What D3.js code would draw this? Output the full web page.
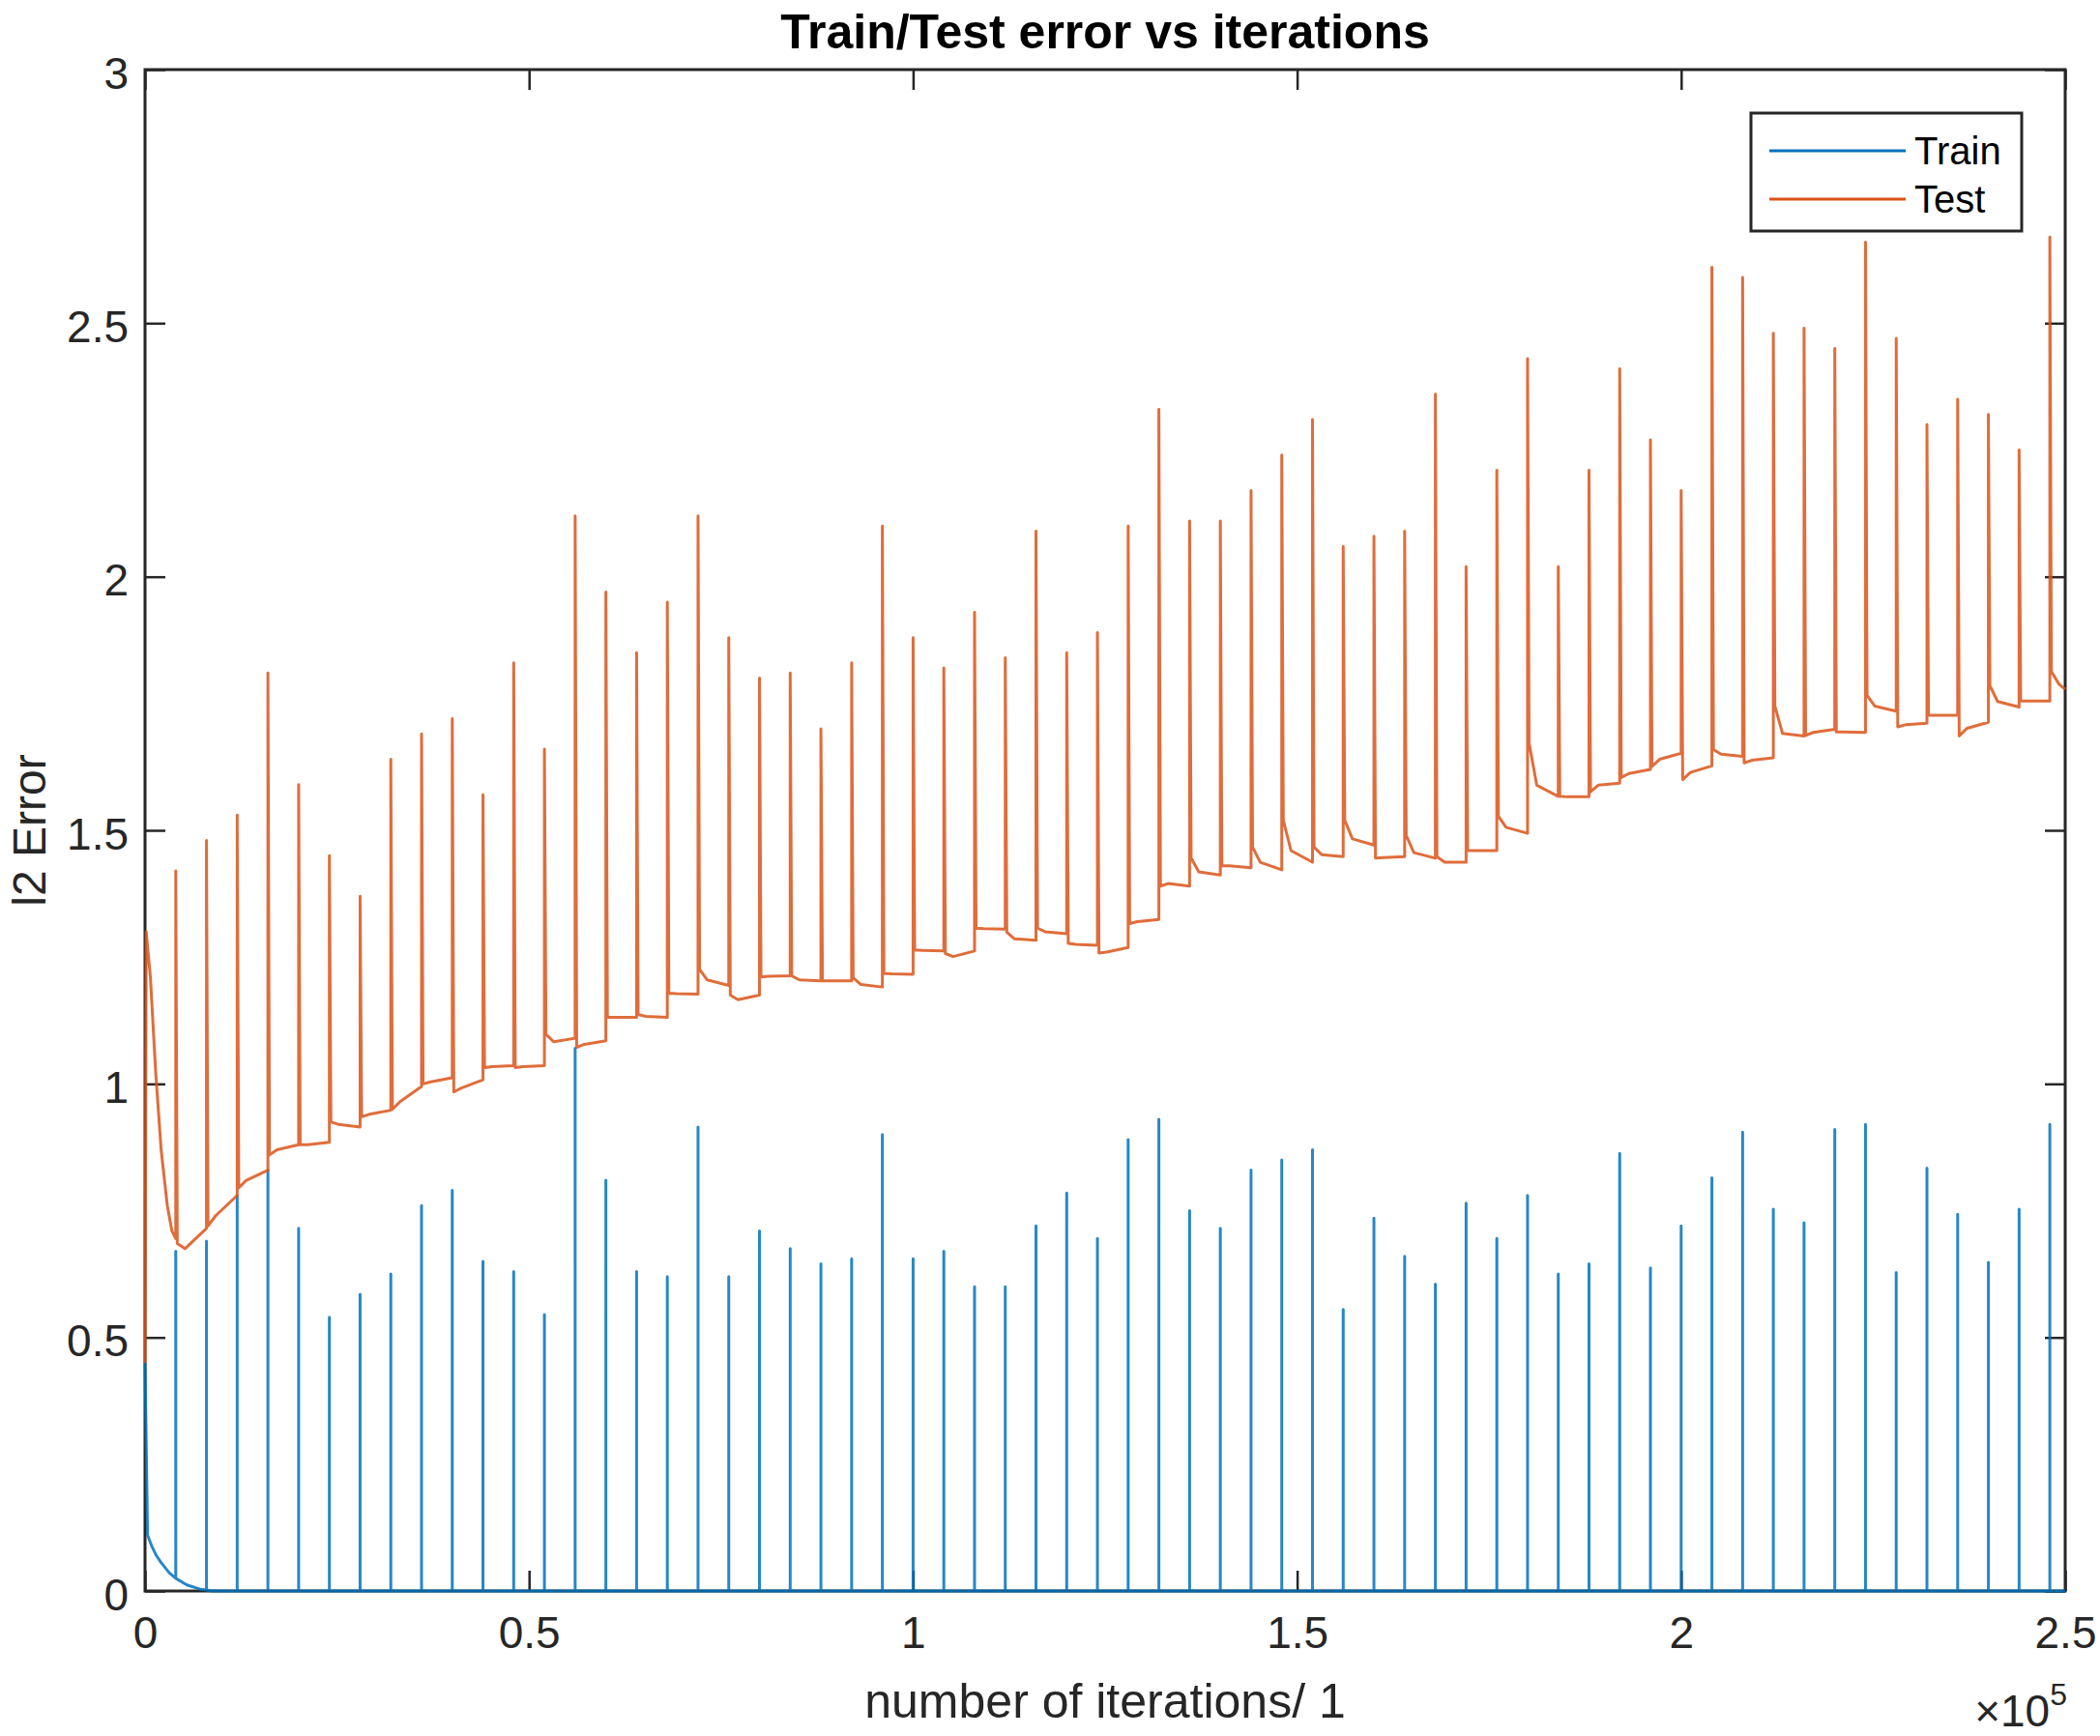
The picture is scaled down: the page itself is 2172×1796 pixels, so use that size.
<!DOCTYPE html>
<html>
<head>
<script src="https://d3js.org/d3.v7.min.js"></script>
<style type="text/css">
  body { margin:0; background:#fff; }
  svg { display:block; font-family:"Liberation Sans", Arial, Helvetica, sans-serif; }
</style>
</head>
<body>
<div id="container"></div>
<script type="text/javascript">

// iterations where the error jumps
var spikeIter = [4000, 8000, 12000, 16000, 20000, 24000, 28000, 32000, 36000, 40000,
  44000, 48000, 52000, 56000, 60000, 64000, 68000, 72000, 76000, 80000,
  84000, 88000, 92000, 96000, 100000, 104000, 108000, 112000, 116000, 120000,
  124000, 128000, 132000, 136000, 140000, 144000, 148000, 152000, 156000, 160000,
  164000, 168000, 172000, 176000, 180000, 184000, 188000, 192000, 196000, 200000,
  204000, 208000, 212000, 216000, 220000, 224000, 228000, 232000, 236000, 240000,
  244000, 248000];

// Test error: top of each spike
var testPeak = [1.42, 1.48, 1.53, 1.81, 1.59, 1.45, 1.37, 1.64, 1.69, 1.72,
  1.57, 1.83, 1.66, 2.12, 1.97, 1.85, 1.95, 2.12, 1.88, 1.80,
  1.81, 1.70, 1.83, 2.10, 1.88, 1.82, 1.93, 1.84, 2.09, 1.85,
  1.89, 2.10, 2.33, 2.11, 2.11, 2.17, 2.24, 2.31, 2.06, 2.08,
  2.09, 2.36, 2.02, 2.21, 2.43, 2.02, 2.21, 2.41, 2.27, 2.17,
  2.61, 2.59, 2.48, 2.49, 2.45, 2.66, 2.47, 2.30, 2.35, 2.32,
  2.25, 2.67];

// Test error between spikes: just after, settled, just before the next one
var testAfter = [0.685, 0.72, 0.795, 0.86, 0.88, 0.925, 0.935, 0.95, 1.0, 0.984,
  1.032, 1.032, 1.098, 1.072, 1.131, 1.137, 1.179, 1.226, 1.175, 1.211,
  1.213, 1.203, 1.209, 1.218, 1.264, 1.257, 1.307, 1.299, 1.307, 1.277,
  1.258, 1.316, 1.39, 1.445, 1.43, 1.467, 1.52, 1.467, 1.52, 1.445,
  1.49, 1.448, 1.46, 1.528, 1.672, 1.567, 1.576, 1.604, 1.626, 1.60,
  1.659, 1.633, 1.745, 1.687, 1.694, 1.766, 1.704, 1.727, 1.686, 1.785,
  1.755, 1.813];
var testSettle = [0.675, 0.74, 0.81, 0.87, 0.88, 0.92, 0.94, 0.965, 1.004, 0.992,
  1.034, 1.034, 1.083, 1.078, 1.131, 1.133, 1.178, 1.205, 1.166, 1.212,
  1.205, 1.203, 1.196, 1.217, 1.263, 1.251, 1.306, 1.286, 1.30, 1.275,
  1.26, 1.32, 1.395, 1.418, 1.43, 1.437, 1.46, 1.452, 1.483, 1.446,
  1.456, 1.437, 1.46, 1.506, 1.589, 1.566, 1.589, 1.612, 1.64, 1.614,
  1.65, 1.638, 1.691, 1.693, 1.694, 1.745, 1.708, 1.727, 1.701, 1.754,
  1.755, 1.788];
var testBefore = [0.715, 0.78, 0.83, 0.88, 0.885, 0.915, 0.948, 0.995, 1.012, 1.008,
  1.036, 1.036, 1.09, 1.085, 1.131, 1.131, 1.177, 1.194, 1.175, 1.213,
  1.203, 1.203, 1.191, 1.216, 1.262, 1.262, 1.305, 1.283, 1.296, 1.273,
  1.269, 1.324, 1.39, 1.412, 1.426, 1.422, 1.437, 1.448, 1.471, 1.448,
  1.445, 1.437, 1.46, 1.494, 1.567, 1.566, 1.593, 1.62, 1.652, 1.627,
  1.646, 1.643, 1.686, 1.699, 1.693, 1.735, 1.711, 1.727, 1.713, 1.743,
  1.755, 1.778];

// Test error before the first spike
var testInit = [[0, 0.45], [150, 1.30], [700, 1.21], [1400, 1.02], [2100, 0.87],
  [2900, 0.76], [3500, 0.71], [4000, 0.695]];

// Train error: top of each spike
var trainPeak = [0.67, 0.69, 0.78, 0.83, 0.715, 0.54, 0.585, 0.625, 0.76, 0.79,
  0.65, 0.63, 0.545, 1.07, 0.81, 0.63, 0.62, 0.915, 0.62, 0.71,
  0.675, 0.645, 0.655, 0.90, 0.655, 0.67, 0.60, 0.60, 0.72, 0.785,
  0.695, 0.89, 0.93, 0.75, 0.715, 0.83, 0.85, 0.87, 0.555, 0.735,
  0.66, 0.605, 0.765, 0.695, 0.78, 0.625, 0.645, 0.863, 0.637, 0.72,
  0.815, 0.905, 0.753, 0.726, 0.91, 0.92, 0.628, 0.834, 0.743, 0.648,
  0.753, 0.92];

// Train error without the spikes
var trainInit = [[0, 0.45], [330, 0.11], [840, 0.09], [1470, 0.07], [2100, 0.056],
  [3150, 0.036], [4000, 0.025], [5450, 0.012], [7100, 0.004], [8000, 0.002],
  [8800, 0], [250000, 0]];

var xTicks = [0, 50000, 100000, 150000, 200000, 250000];
var xTickLabels = ["0", "0.5", "1", "1.5", "2", "2.5"];
var yTicks = [0, 0.5, 1, 1.5, 2, 2.5, 3];
var yTickLabels = ["0", "0.5", "1", "1.5", "2", "2.5", "3"];

var seriesNames = ["Train", "Test"];
var seriesColors = ["#0072BD", "#D95319"];

var width = 2172,
    height = 1796,
    margin = {left: 150, right: 36, top: 72, bottom: 150};

var x = d3.scaleLinear().domain([0, 250000]).range([margin.left, width - margin.right]);
var y = d3.scaleLinear().domain([0, 3]).range([height - margin.bottom, margin.top]);

var svg = d3.select("#container")
  .append("svg")
    .attr("width", width)
    .attr("height", height);

var axisColor = "#262626",
    tickLen = 21;

// axes with inward ticks, MATLAB style box
function styleAxis(g) {
  g.attr("font-family", null).attr("font-size", 46);
  g.select(".domain").remove();
  g.selectAll(".tick line").attr("stroke", axisColor).attr("stroke-width", 2.5);
  g.selectAll(".tick text").attr("fill", axisColor);
}

svg.append("g")
    .attr("transform", "translate(0," + y(0) + ")")
    .call(d3.axisBottom(x).tickValues(xTicks)
      .tickFormat(function(d, i) { return xTickLabels[i]; })
      .tickSizeInner(-tickLen).tickSizeOuter(0).tickPadding(26))
    .call(styleAxis);

svg.append("g")
    .attr("transform", "translate(0," + y(3) + ")")
    .call(d3.axisTop(x).tickValues(xTicks).tickFormat("")
      .tickSizeInner(-tickLen).tickSizeOuter(0))
    .call(styleAxis);

svg.append("g")
    .attr("transform", "translate(" + x(0) + ",0)")
    .call(d3.axisLeft(y).tickValues(yTicks)
      .tickFormat(function(d, i) { return yTickLabels[i]; })
      .tickSizeInner(-tickLen).tickSizeOuter(0).tickPadding(17))
    .call(styleAxis)
    .selectAll(".tick text").attr("dy", "0.42em");

svg.append("g")
    .attr("transform", "translate(" + x(250000) + ",0)")
    .call(d3.axisRight(y).tickValues(yTicks).tickFormat("")
      .tickSizeInner(-tickLen).tickSizeOuter(0))
    .call(styleAxis);

svg.append("rect")
    .attr("x", x(0))
    .attr("y", y(3))
    .attr("width", x(250000) - x(0))
    .attr("height", y(0) - y(3))
    .attr("fill", "none")
    .attr("stroke", axisColor)
    .attr("stroke-width", 3);

// build the train line: flat curve with vertical spikes
var trainPts = trainInit.map(function(d) { return {x: d[0], y: d[1], k: -1}; });
spikeIter.forEach(function(s, i) {
  var hit = trainInit.find(function(d) { return d[0] === s; });
  var base = hit ? hit[1] : 0;
  trainPts.push({x: s, y: base, k: 0}, {x: s, y: trainPeak[i], k: 1}, {x: s, y: base, k: 2});
});
trainPts.sort(function(a, b) { return a.x - b.x || a.k - b.k; });

// build the test line
var testPts = testInit.map(function(d) { return {x: d[0], y: d[1]}; });
spikeIter.forEach(function(s, i) {
  var next = i < spikeIter.length - 1 ? spikeIter[i + 1] : 250000;
  testPts.push({x: s, y: testPeak[i]});
  testPts.push({x: s + 200, y: testAfter[i]});
  testPts.push({x: s + 1200, y: testSettle[i]});
  testPts.push({x: next, y: testBefore[i]});
});

var line = d3.line()
    .x(function(d) { return x(d.x); })
    .y(function(d) { return y(d.y); });

svg.append("path")
    .datum(trainPts)
    .attr("fill", "none")
    .attr("stroke", seriesColors[0])
    .attr("stroke-width", 3)
    .attr("stroke-opacity", 0.85)
    .attr("stroke-linejoin", "round")
    .attr("d", line);

svg.append("path")
    .datum(testPts)
    .attr("fill", "none")
    .attr("stroke", seriesColors[1])
    .attr("stroke-width", 3)
    .attr("stroke-opacity", 0.85)
    .attr("stroke-linejoin", "round")
    .attr("d", line);

// title and labels
svg.append("text")
    .attr("x", (x(0) + x(250000)) / 2)
    .attr("y", 50)
    .attr("text-anchor", "middle")
    .attr("font-size", 50)
    .attr("font-weight", "bold")
    .attr("fill", "#000")
    .text("Train/Test error vs iterations");

svg.append("text")
    .attr("x", (x(0) + x(250000)) / 2)
    .attr("y", 1777)
    .attr("text-anchor", "middle")
    .attr("font-size", 50)
    .attr("fill", axisColor)
    .text("number of iterations/ 1");

svg.append("text")
    .attr("transform", "translate(47," + (y(0) + y(3)) / 2 + ") rotate(-90)")
    .attr("text-anchor", "middle")
    .attr("font-size", 48)
    .attr("fill", axisColor)
    .text("l2 Error");

var expo = svg.append("text")
    .attr("x", x(250000) + 2)
    .attr("y", 1786)
    .attr("text-anchor", "end")
    .attr("font-size", 46)
    .attr("fill", axisColor);
expo.append("tspan").text("\u00d710");
expo.append("tspan").attr("font-size", 32).attr("dy", -22).text("5");

// legend
var legend = svg.append("g");
legend.append("rect")
    .attr("x", 1811)
    .attr("y", 117)
    .attr("width", 280)
    .attr("height", 122)
    .attr("fill", "#fff")
    .attr("stroke", axisColor)
    .attr("stroke-width", 3);

legend.selectAll(".item")
    .data(seriesNames)
  .enter().append("g")
    .attr("class", "item")
    .attr("transform", function(d, i) { return "translate(0," + (156 + i * 50) + ")"; })
    .each(function(d, i) {
      var g = d3.select(this);
      g.append("line")
          .attr("x1", 1830).attr("x2", 1971)
          .attr("stroke", seriesColors[i])
          .attr("stroke-width", 3);
      g.append("text")
          .attr("x", 1980)
          .attr("dy", "0.36em")
          .attr("font-size", 40)
          .attr("fill", "#000")
          .text(d);
    });

</script>
</body>
</html>
